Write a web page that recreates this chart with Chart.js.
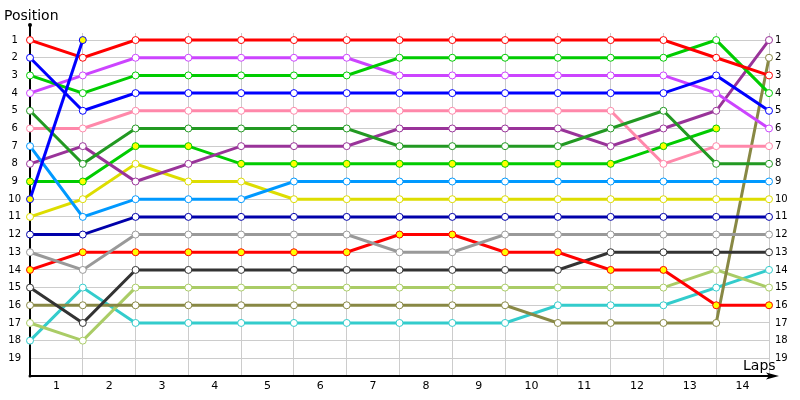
<!DOCTYPE html>
<html>
<head>
<meta charset="utf-8">
<script src="https://cdn.jsdelivr.net/npm/chart.js@4/dist/chart.umd.min.js"></script>
<style>
  html, body { margin: 0; padding: 0; background: #fff; }
  #wrap { width: 800px; height: 400px; }
</style>
</head>
<body>
<div id="wrap"><canvas id="lapChart" width="800" height="400"></canvas></div>
<script>
// lap index for each point (0 = grid/start)
const laps = [0, 1, 2, 3, 4, 5, 6, 7, 8, 9, 10, 11, 12, 13, 14];
const posTicks = [1, 2, 3, 4, 5, 6, 7, 8, 9, 10, 11, 12, 13, 14, 15, 16, 17, 18, 19];
const lapLabels = ['1', '2', '3', '4', '5', '6', '7', '8', '9', '10', '11', '12', '13', '14'];

// positions per driver, one entry per lap point
const red        = [1, 2, 1, 1, 1, 1, 1, 1, 1, 1, 1, 1, 1, 2, 3];
const blue       = [2, 5, 4, 4, 4, 4, 4, 4, 4, 4, 4, 4, 4, 3, 5];
const green      = [3, 4, 3, 3, 3, 3, 3, 2, 2, 2, 2, 2, 2, 1, 4];
const violet     = [4, 3, 2, 2, 2, 2, 2, 3, 3, 3, 3, 3, 3, 4, 6];
const darkGreen  = [5, 8, 6, 6, 6, 6, 6, 7, 7, 7, 7, 6, 5, 8, 8];
const pink       = [6, 6, 5, 5, 5, 5, 5, 5, 5, 5, 5, 5, 8, 7, 7];
const lightBlue  = [7, 11, 10, 10, 10, 9, 9, 9, 9, 9, 9, 9, 9, 9, 9];
const purple     = [8, 7, 9, 8, 7, 7, 7, 6, 6, 6, 6, 7, 6, 5, 1];
const greenPit   = [9, 9, 7, 7, 8, 8, 8, 8, 8, 8, 8, 8, 7, 6];
const yellow     = [11, 10, 8, 9, 9, 10, 10, 10, 10, 10, 10, 10, 10, 10, 10];
const navy       = [12, 12, 11, 11, 11, 11, 11, 11, 11, 11, 11, 11, 11, 11, 11];
const gray       = [13, 14, 12, 12, 12, 12, 12, 13, 13, 12, 12, 12, 12, 12, 12];
const redPit     = [14, 13, 13, 13, 13, 13, 13, 12, 12, 13, 13, 14, 14, 16, 16];
const black      = [15, 17, 14, 14, 14, 14, 14, 14, 14, 14, 14, 13, 13, 13, 13];
const olive      = [16, 16, 16, 16, 16, 16, 16, 16, 16, 16, 17, 17, 17, 17, 2];
const lightGreen = [17, 18, 15, 15, 15, 15, 15, 15, 15, 15, 15, 15, 15, 14, 15];
const cyan       = [18, 15, 17, 17, 17, 17, 17, 17, 17, 17, 16, 16, 16, 15, 14];
const bluePit    = [10, 1];

const drivers = [
  { data: bluePit,    color: '#0000ff', fill: '#ffff00' },
  { data: red,        color: '#ff0000', fill: '#ffffff' },
  { data: blue,       color: '#0000ff', fill: '#ffffff' },
  { data: green,      color: '#00cc00', fill: '#ffffff' },
  { data: violet,     color: '#cc44ff', fill: '#ffffff' },
  { data: darkGreen,  color: '#229922', fill: '#ffffff' },
  { data: pink,       color: '#ff88aa', fill: '#ffffff' },
  { data: lightBlue,  color: '#0099ff', fill: '#ffffff' },
  { data: purple,     color: '#993399', fill: '#ffffff' },
  { data: greenPit,   color: '#00cc00', fill: '#ffff00' },
  { data: yellow,     color: '#dddd00', fill: '#ffffff' },
  { data: navy,       color: '#0000aa', fill: '#ffffff' },
  { data: gray,       color: '#999999', fill: '#ffffff' },
  { data: redPit,     color: '#ff0000', fill: '#ffff00' },
  { data: black,      color: '#333333', fill: '#ffffff' },
  { data: olive,      color: '#888844', fill: '#ffffff' },
  { data: lightGreen, color: '#aacc66', fill: '#ffffff' },
  { data: cyan,       color: '#33cccc', fill: '#ffffff' }
];

const datasets = drivers.map(d => ({
  data: d.data.map((p, i) => ({ x: laps[i], y: p })),
  borderColor: d.color,
  borderWidth: 3,
  pointRadius: 3.5,
  pointBorderWidth: 1,
  pointBorderColor: d.color,
  pointBackgroundColor: d.fill,
  tension: 0,
  clip: false
}));

// black axes with end marks, plus the two axis titles
const axesPlugin = {
  id: 'axesPlugin',
  beforeDatasetsDraw(chart) {
    const ctx = chart.ctx;
    const a = chart.chartArea;
    ctx.save();
    ctx.strokeStyle = '#000';
    ctx.fillStyle = '#000';
    ctx.lineWidth = 2;
    ctx.beginPath();
    ctx.moveTo(a.left, 25);
    ctx.lineTo(a.left, a.bottom);
    ctx.lineTo(a.right + 2, a.bottom);
    ctx.stroke();
    ctx.beginPath();
    ctx.moveTo(a.right + 10, a.bottom);
    ctx.lineTo(a.right - 3, a.bottom - 3.5);
    ctx.lineTo(a.right, a.bottom);
    ctx.lineTo(a.right - 3, a.bottom + 3.5);
    ctx.closePath();
    ctx.fill();
    ctx.beginPath();
    ctx.arc(a.left, 25, 2, 0, Math.PI * 2);
    ctx.fill();
    ctx.beginPath();
    ctx.arc(a.left, a.bottom, 1.5, 0, Math.PI * 2);
    ctx.fill();
    ctx.restore();
  },
  afterDraw(chart) {
    const ctx = chart.ctx;
    ctx.save();
    ctx.fillStyle = '#000';
    ctx.font = '14px "DejaVu Sans"';
    ctx.textBaseline = 'alphabetic';
    ctx.fillText('Position', 4, 20);
    ctx.fillText('Laps', 743, 370);
    ctx.restore();
  }
};

new Chart(document.getElementById('lapChart'), {
  type: 'line',
  data: { datasets },
  plugins: [axesPlugin],
  options: {
    responsive: false,
    animation: false,
    devicePixelRatio: 1,
    layout: { padding: { top: 33, left: 0, right: 0, bottom: 0 } },
    plugins: { legend: { display: false }, tooltip: { enabled: false } },
    scales: {
      x: {
        type: 'linear',
        min: 0,
        max: 14,
        afterBuildTicks(scale) {
          const t = [];
          for (let v = 0; v <= 14; v += 0.5) t.push({ value: v });
          scale.ticks = t;
        },
        afterFit(scale) { scale.height = 24; },
        border: { display: false },
        grid: {
          drawTicks: false,
          color: c => (c.tick && c.tick.value % 1 === 0) ? '#cccccc' : 'rgba(0,0,0,0)'
        },
        ticks: {
          autoSkip: false,
          maxRotation: 0,
          padding: 4,
          color: '#000',
          font: { family: 'DejaVu Sans', size: 11 },
          callback: v => (v % 1 !== 0) ? lapLabels[Math.floor(v)] : ''
        }
      },
      y: {
        type: 'linear',
        position: 'left',
        reverse: true,
        min: 0.6,
        max: 20,
        afterBuildTicks(scale) { scale.ticks = posTicks.map(v => ({ value: v })); },
        afterFit(scale) { scale.width = 30; },
        border: { display: false },
        grid: { drawTicks: false, color: '#cccccc' },
        ticks: {
          crossAlign: 'center',
          padding: 9,
          color: '#000',
          font: { family: 'DejaVu Sans', size: 10 },
          callback: v => String(v)
        }
      },
      yRight: {
        type: 'linear',
        position: 'right',
        reverse: true,
        min: 0.6,
        max: 20,
        afterBuildTicks(scale) { scale.ticks = posTicks.map(v => ({ value: v })); },
        afterFit(scale) { scale.width = 31; },
        border: { display: false },
        grid: { display: false, drawTicks: false },
        ticks: {
          padding: 6,
          color: '#000',
          font: { family: 'DejaVu Sans', size: 10 },
          callback: v => String(v)
        }
      }
    }
  }
});
</script>
</body>
</html>
